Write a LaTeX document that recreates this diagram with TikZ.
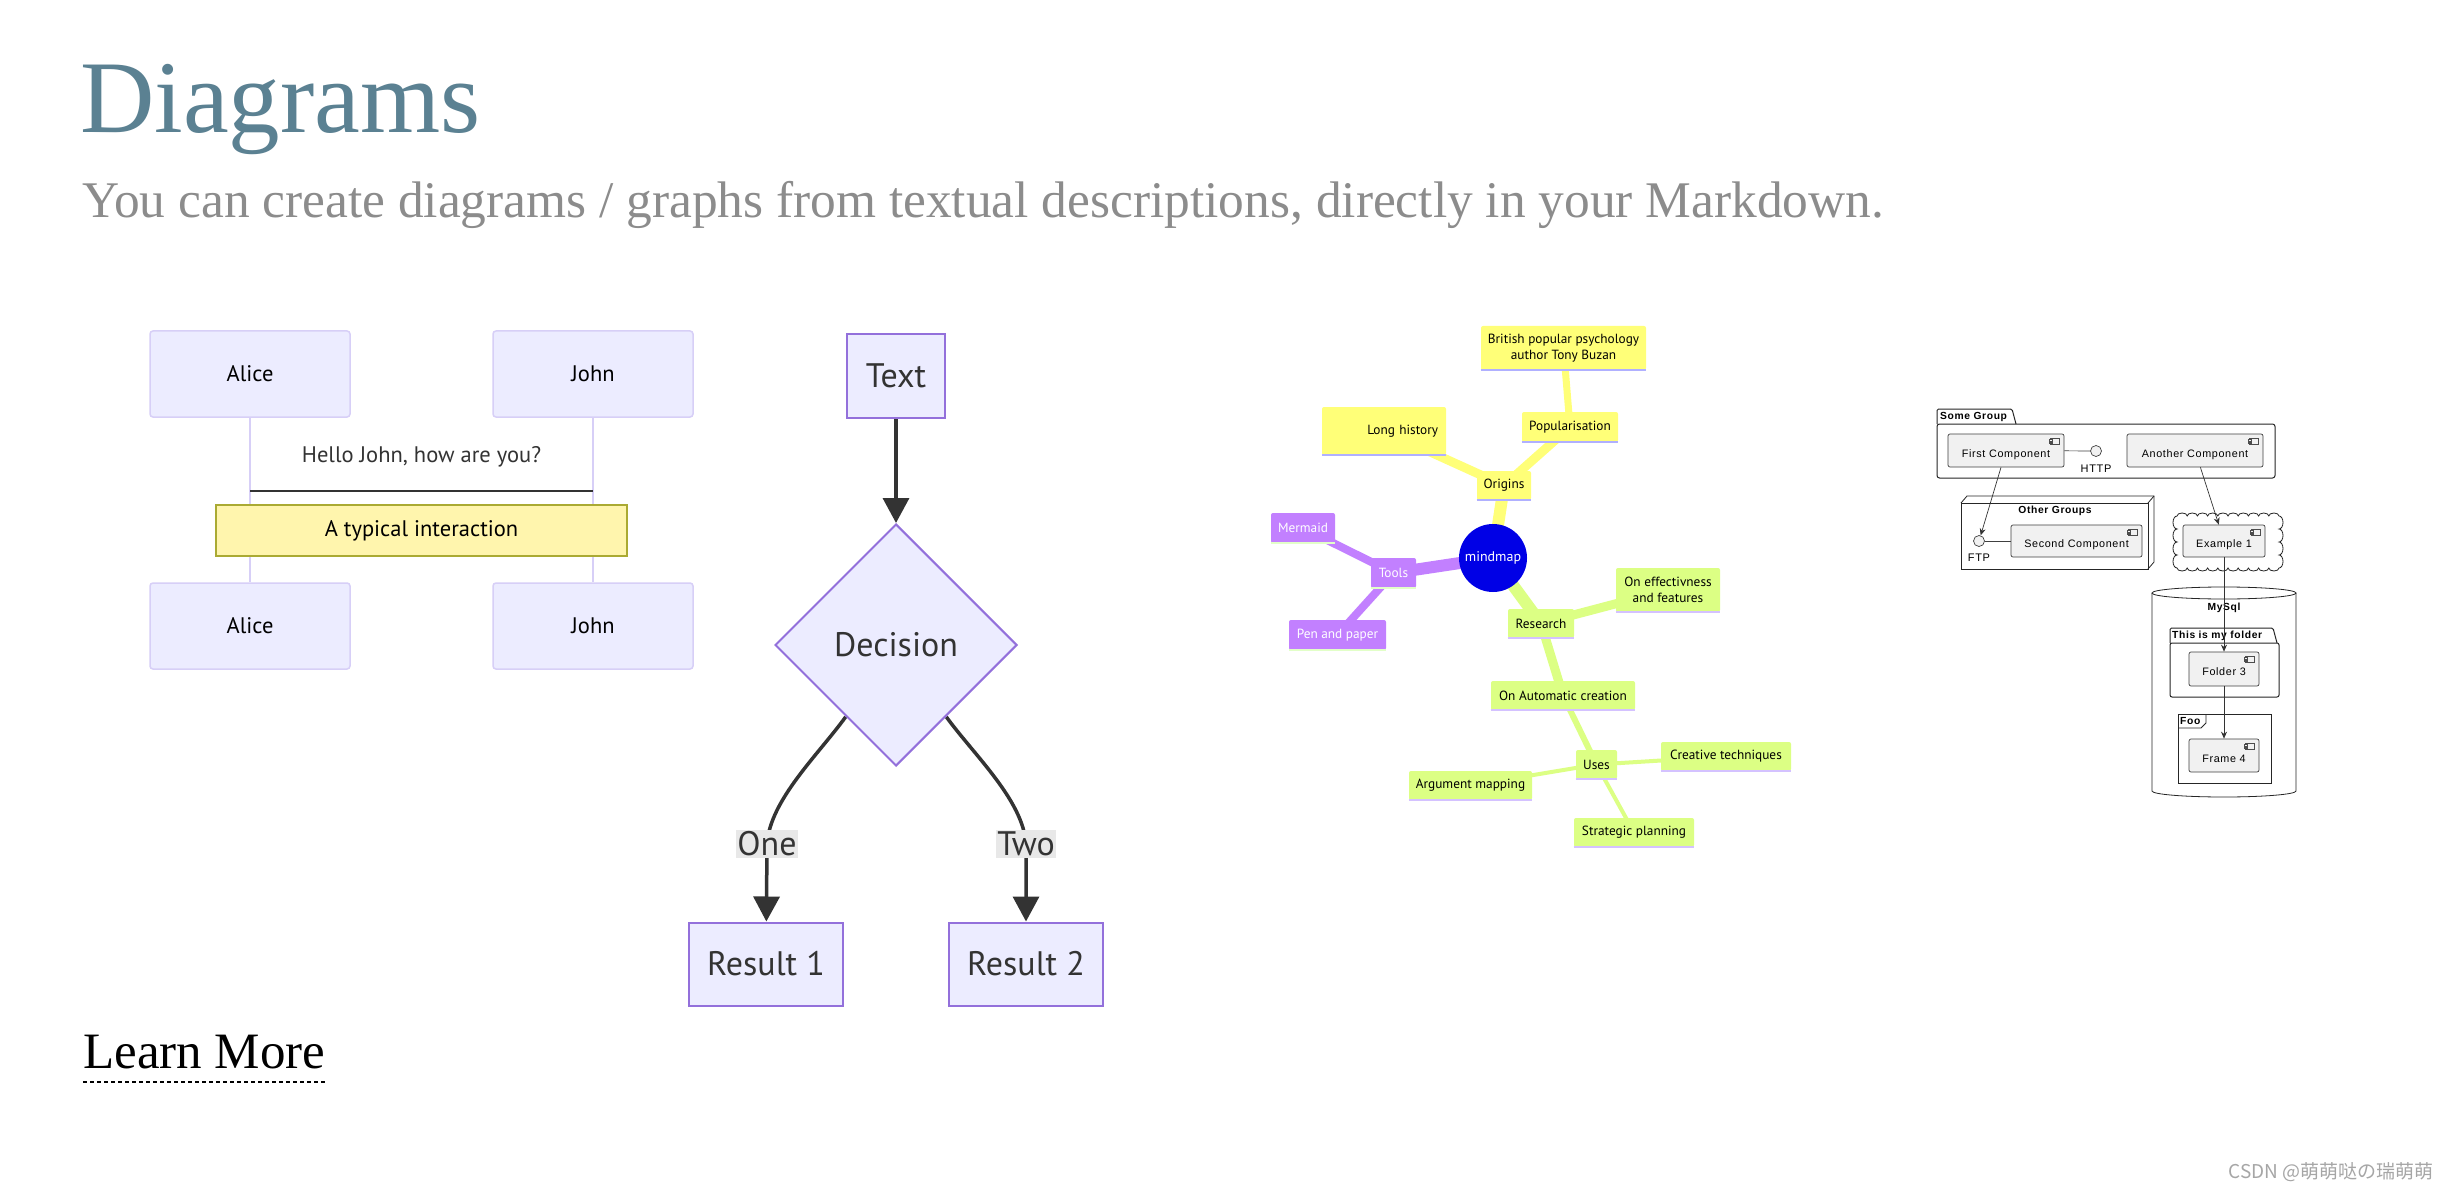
\documentclass[tikz,border=0pt]{standalone}
\usepackage{fontspec}
\usepackage{xcolor}
\usepackage{tikz}
\usetikzlibrary{shapes.geometric,arrows.meta,backgrounds}
\setmainfont{Liberation Serif}
\newfontfamily\mmfont{PT Sans}
\newfontfamily\umlfont[LetterSpace=6]{Liberation Sans}
\newfontfamily\cjkfont{Noto Sans CJK SC}
\newcommand{\tam}[2]{\fontsize{#1pt}{#2pt}\selectfont}

\definecolor{colortitulo}{HTML}{5B8192}
\definecolor{colorsub}{HTML}{8C8C8C}
\definecolor{seqfill}{HTML}{ECECFF}
\definecolor{seqline}{HTML}{D7CFF7}
\definecolor{notefill}{HTML}{FFF5AD}
\definecolor{noteline}{HTML}{AAAA33}
\definecolor{flowline}{HTML}{9370DB}
\definecolor{edgegray}{HTML}{333333}
\definecolor{labelbg}{HTML}{E8E8E8}
\definecolor{mmblue}{HTML}{0000E6}
\definecolor{mmyellow}{HTML}{FFFF78}
\definecolor{mmgreen}{HTML}{DCFF84}
\definecolor{mmpurple}{HTML}{C280FF}
\definecolor{mmyline}{HTML}{B0B0FF}
\definecolor{mmgline}{HTML}{D4C2FF}
\definecolor{mmpline}{HTML}{E2FFC8}
\definecolor{umlfill}{HTML}{F1F1F1}

\begin{document}
\begin{tikzpicture}[x=1pt, y=-1pt,
    actor/.style={rectangle, rounded corners=3pt, fill=seqfill, draw=seqline, line width=1.5pt,
      minimum width=200pt, minimum height=86pt, inner sep=0pt, font=\mmfont\tam{22.5}{27}},
    mensaje/.style={inner sep=0pt, text=edgegray, font=\mmfont\tam{22.5}{27}},
    lifeline/.style={draw=seqline, line width=2pt},
    nota/.style={rectangle, fill=notefill, draw=noteline, line width=1.5pt,
      minimum width=411pt, minimum height=51pt, inner sep=0pt, font=\mmfont\tam{22.5}{27}},
    flujo/.style={rectangle, fill=seqfill, draw=flowline, line width=2pt, inner sep=0pt,
      text=edgegray, font=\mmfont\tam{34}{40}},
    flecha/.style={draw=edgegray, line width=3.5pt, -{Triangle[length=25pt,width=26pt]}},
    etiqueta/.style={fill=labelbg, inner sep=1.5pt, text=edgegray, font=\mmfont\tam{34}{40}},
    mm/.style={rectangle, rounded corners=2pt, inner sep=0pt, align=center, font=\mmfont\tam{13.3}{15.5}},
    mmo/.style={mm, fill=mmyellow},
    mmr/.style={mm, fill=mmgreen},
    mmt/.style={mm, fill=mmpurple, text=white},
    comp/.style={rectangle, rounded corners=2pt, fill=umlfill, draw=black!75, line width=0.7pt,
      inner sep=0pt, text height=15pt, text depth=2pt, font=\umlfont\tam{10.8}{12}},
    iface/.style={circle, draw=black!75, fill=umlfill, line width=0.7pt, minimum size=11pt, inner sep=0pt},
    pkg/.style={draw=black!85, line width=1pt},
    pkgtext/.style={inner sep=0pt, font=\umlfont\bfseries\tam{10.3}{12}},
    umltext/.style={inner sep=0pt, font=\umlfont\tam{11}{12}},
    umlarrow/.style={draw=black!80, line width=0.7pt, -{Stealth[length=7pt,width=6pt]}}]

  % Fondo
  \begin{scope}[on background layer]
    \fill[white] (0,0) rectangle (2450,1190);
  \end{scope}
  \path[use as bounding box] (0,0) rectangle (2450,1190);

  % Titulo
  \node[anchor=base west, inner sep=0pt, text=colortitulo, font=\tam{103}{110}] (titulo) at (80,133) {Diagrams};
  \node[anchor=base west, inner sep=0pt, text=colorsub, font=\tam{51.4}{56}] (subtitulo) at (82,218)
    {You can create diagrams / graphs from textual descriptions, directly in your Markdown.};

  % Diagrama de secuencia
  \node[actor] (alice1) at (250,374) {Alice};
  \node[actor] (john1) at (593,374) {John};
  \node[actor] (alice2) at (250,626) {Alice};
  \node[actor] (john2) at (593,626) {John};
  \node[mensaje] (msg) at (421.5,457) {Hello John, how are you?};
  \coordinate (linea) at (421.5,491);
  \node[nota] (nota) at (421.5,530.5) {A typical interaction};
  \begin{scope}[on background layer]
    \draw[lifeline] (alice1) -- (alice2);
    \draw[lifeline] (john1) -- (john2);
  \end{scope}
  \draw[edgegray, line width=2pt] (alice1 |- linea) -- (john1 |- linea);

  % Diagrama de flujo
  \node[flujo, minimum width=98pt, minimum height=84pt] (texto) at (896,376) {Text};
  \node[flujo, diamond, aspect=1, minimum width=242pt, minimum height=242pt] (decision) at (896,645) {Decision};
  \node[flujo, minimum width=154pt, minimum height=83pt] (res1) at (766,964) {Result 1};
  \node[flujo, minimum width=154pt, minimum height=83pt] (res2) at (1026,964) {Result 2};
  \node[etiqueta] (uno) at (767,844) {One};
  \node[etiqueta] (dos) at (1026,844) {Two};
  \begin{scope}[on background layer]
    \draw[flecha] (texto) -- (decision);
    \draw[flecha] (decision.-125) .. controls (818,755) and (770,800) .. (uno.center) -- (res1);
    \draw[flecha] (decision.-55) .. controls (974,755) and (1023,800) .. (dos.center) -- (res2);
  \end{scope}

  % Mapa mental
  \node[circle, fill=mmblue, minimum size=68pt, inner sep=0pt, text=white, font=\mmfont\tam{14}{16}] (raiz) at (1493,558) {mindmap};
  \node[mmo, minimum width=54pt, minimum height=29pt] (origins) at (1504,485.5) {Origins};
  \node[mmo, text width=108pt, align=right, inner xsep=8pt, minimum height=48pt] (longhist) at (1384,431) {Long history};
  \node[mmo, minimum width=96pt, minimum height=30pt] (popular) at (1570,427) {Popularisation};
  \node[mmo, minimum width=165pt, minimum height=44pt] (british) at (1563.5,348) {British popular psychology\\author Tony Buzan};
  \node[mmt, minimum width=45pt, minimum height=30pt] (tools) at (1393.5,573) {Tools};
  \node[mmt, minimum width=64pt, minimum height=30pt] (mermaid) at (1303,528) {Mermaid};
  \node[mmt, minimum width=97pt, minimum height=30pt] (pen) at (1337.5,635) {Pen and paper};
  \node[mmr, minimum width=66pt, minimum height=29pt] (research) at (1541,623.5) {Research};
  \node[mmr, minimum width=104pt, minimum height=44pt] (effect) at (1668,590) {On effectivness\\and features};
  \node[mmr, minimum width=144pt, minimum height=29pt] (autocr) at (1563,695.5) {On Automatic creation};
  \node[mmr, minimum width=41pt, minimum height=29pt] (uses) at (1596.5,764.5) {Uses};
  \node[mmr, minimum width=130pt, minimum height=29pt] (creative) at (1726,756.5) {Creative techniques};
  \node[mmr, minimum width=123pt, minimum height=29pt] (argmap) at (1470.5,785.5) {Argument mapping};
  \node[mmr, minimum width=120pt, minimum height=29pt] (strat) at (1634,832.5) {Strategic planning};
  \foreach \n in {origins,longhist,popular,british}
    \draw[mmyline, line width=2pt] (\n.south west) -- (\n.south east);
  \foreach \n in {research,effect,autocr,uses,creative,argmap,strat}
    \draw[mmgline, line width=2pt] (\n.south west) -- (\n.south east);
  \foreach \n in {tools,mermaid,pen}
    \draw[mmpline, line width=2pt] (\n.south west) -- (\n.south east);
  \begin{scope}[on background layer]
    \foreach \a/\b/\w in {raiz/origins/12,origins/longhist/9,origins/popular/9,popular/british/7}
      \draw[mmyellow, line width=\w pt] (\a.center) -- (\b.center);
    \foreach \a/\b/\w in {raiz/research/12,research/effect/9,research/autocr/9,autocr/uses/6,uses/creative/4,uses/argmap/4,uses/strat/4}
      \draw[mmgreen, line width=\w pt] (\a.center) -- (\b.center);
    \foreach \a/\b/\w in {raiz/tools/12,tools/mermaid/8,tools/pen/8}
      \draw[mmpurple, line width=\w pt] (\a.center) -- (\b.center);
  \end{scope}

  % Diagrama de componentes
  \draw[pkg, rounded corners=1.5pt] (1937,424) -- (1937,409) -- (2012,409) -- (2016,424);
  \draw[pkg, rounded corners=2.5pt] (1937,424) rectangle (2275,478);
  \node[pkgtext, anchor=west] (somegroup) at (1940,417) {Some Group};
  \draw[pkg, line width=0.8pt] (1961,503) rectangle (2148,569);
  \draw[pkg, line width=0.8pt] (1961,503) -- (1967,496) -- (2154,496) -- (2154,562) -- (2148,569);
  \draw[pkg, line width=0.8pt] (2148,503) -- (2154,496);
  \node[pkgtext] (othergroups) at (2055,511) {Other Groups};
  % nube
  \draw[pkg, line width=0.8pt] (2177,516)
    \foreach \i in {1,...,10} { arc[start angle=180, end angle=360, x radius=5.1, y radius=3] }
    \foreach \i in {1,...,4} { arc[start angle=270, end angle=450, x radius=4, y radius=6.5] }
    \foreach \i in {1,...,10} { arc[start angle=0, end angle=180, x radius=5.1, y radius=3] }
    \foreach \i in {1,...,4} { arc[start angle=90, end angle=270, x radius=4, y radius=6.5] } -- cycle;
  \draw[pkg, line width=0.8pt] (2152,593) -- (2152,791) arc[start angle=180, end angle=0, x radius=72, y radius=6] -- (2296,593);
  \draw[pkg, line width=0.8pt] (2224,593) ellipse [x radius=72, y radius=6];
  \node[pkgtext] (mysql) at (2224,608) {MySql};
  \draw[pkg, rounded corners=1.5pt] (2170,643) -- (2170,628) -- (2273,628) -- (2277,643);
  \draw[pkg, rounded corners=2pt] (2170,643) rectangle (2279,697);
  \node[pkgtext, anchor=west] (myfolder) at (2172,635.5) {This is my folder};
  \draw[pkg, line width=0.8pt] (2178,714) rectangle (2271,783);
  \draw[pkg, line width=0.8pt] (2178,728) -- (2201,728) -- (2206,723) -- (2206,714);
  \node[pkgtext, anchor=west] (foo) at (2180,721) {Foo};

  \node[comp, minimum width=116pt, minimum height=33pt] (first) at (2006,450.5) {First Component};
  \node[comp, minimum width=136pt, minimum height=33pt] (another) at (2195,450.5) {Another Component};
  \node[comp, minimum width=131pt, minimum height=32pt] (second) at (2076.5,541) {Second Component};
  \node[comp, minimum width=82pt, minimum height=32pt] (ex1) at (2224,541) {Example 1};
  \node[comp, minimum width=70pt, minimum height=34pt] (folder3) at (2224,669) {Folder 3};
  \node[comp, minimum width=70pt, minimum height=33pt] (frame4) at (2224,755.5) {Frame 4};
  \foreach \c in {first,another,second,ex1,folder3,frame4}{
    \draw[black!70, line width=0.5pt, fill=umlfill] ([shift={(-14,5)}]\c.north east) rectangle ++(9,6);
    \draw[black!70, line width=0.4pt, fill=umlfill] ([shift={(-15.5,6)}]\c.north east) rectangle ++(3,1.3);
    \draw[black!70, line width=0.4pt, fill=umlfill] ([shift={(-15.5,8.7)}]\c.north east) rectangle ++(3,1.3);
  }
  \node[iface] (http) at (2096,451) {};
  \node[iface] (ftp) at (1979,541) {};
  \node[umltext] (httptxt) at (2096,469) {HTTP};
  \node[umltext] (ftptxt) at (1979,558) {FTP};
  \draw[black!75, line width=0.7pt] (first) -- (http);
  \draw[black!75, line width=0.7pt] (second) -- (ftp);
  \draw[umlarrow] (first) -- (ftp);
  \draw[umlarrow] (another) -- (ex1);
  \draw[umlarrow] (ex1) -- (folder3);
  \draw[umlarrow] (folder3) -- (frame4);

  % Enlace
  \node[anchor=base west, inner sep=0pt, font=\tam{51}{56}] (learn) at (83,1068) {Learn More};
  \draw[black, line width=2pt, dash pattern=on 4pt off 3pt] (learn.west |- 0,1082) -- (learn.east |- 0,1082);

  % Marca de agua
  \node[anchor=east, inner sep=0pt, text=black!35, font=\cjkfont\tam{19}{22}] (marca) at (2434,1172) {CSDN @萌萌哒の瑞萌萌};
\end{tikzpicture}
\end{document}
